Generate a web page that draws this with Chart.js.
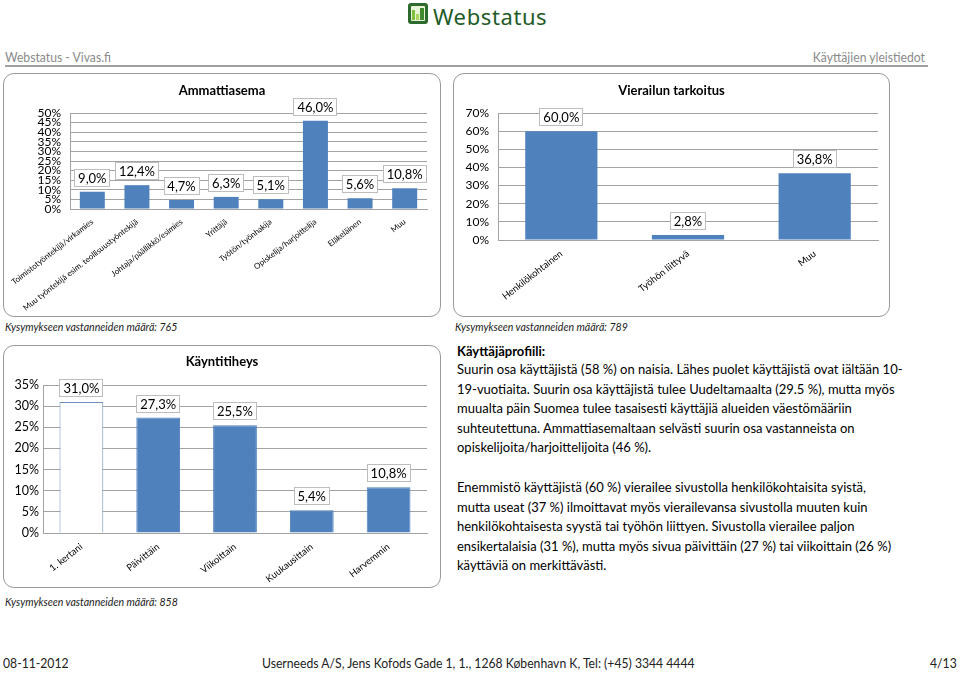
<!DOCTYPE html>
<html>
<head>
<meta charset="utf-8">
<script src="https://cdn.jsdelivr.net/npm/chart.js@4.4.0/dist/chart.umd.min.js"></script>
<style>
  html, body { margin: 0; padding: 0; background: #fff; }
  body { width: 960px; height: 673px; position: relative; overflow: hidden; font-family: Lato, "Open Sans", sans-serif; color: #000; }
  .abs { position: absolute; white-space: nowrap; }
  .cond { font-size: 14px; transform: scaleX(0.87); transform-origin: left top; }
  .cond.r { transform-origin: right top; }
  .box { position: absolute; border: 1px solid #9a9a9a; border-radius: 11px; box-sizing: border-box; overflow: hidden; }
  .box canvas { position: absolute; left: -1px; top: -1px; }
  .note { font-style: italic; font-size: 12px; color: #222; transform: scaleX(0.88); transform-origin: left top; }
  .para { font-size: 13px; line-height: 19.6px; }
</style>
</head>
<body>

<!-- logo -->
<div class="abs" style="left:408px; top:3px; width:20px; height:21px; background:#2c6a2e; border-radius:3px;">
  <div style="position:absolute; left:3px; top:3px; width:14px; height:15px; background:#e9f3d8; border-radius:1px;"></div>
  <div style="position:absolute; left:4px; top:7px; width:3px; height:10px; background:#7fbf3a;"></div>
  <div style="position:absolute; left:8px; top:11px; width:3px; height:6px; background:#a8d65a;"></div>
  <div style="position:absolute; left:12px; top:5px; width:4px; height:12px; background:#3f8a2c;"></div>
</div>
<div class="abs" style="left:433px; top:1px; font-family:'Noto Sans', sans-serif; font-size:22px; color:#1e5b27; letter-spacing:0.6px;">Webstatus</div>

<!-- page header -->
<div class="abs cond" style="left:5px; top:48px; color:#8a8a8a;">Webstatus - Vivas.fi</div>
<div class="abs cond r" style="right:35px; top:48px; color:#8a8a8a;">Käyttäjien yleistiedot</div>
<div class="abs" style="left:5px; top:65px; width:923px; height:2px; background:#a0a0a0;"></div>

<!-- charts -->
<div class="box" style="left:3px; top:73px; width:438px; height:244px;"><canvas id="occupationChart" width="438" height="244"></canvas></div>
<div class="box" style="left:453px; top:73px; width:437px; height:244px;"><canvas id="purposeChart" width="437" height="244"></canvas></div>
<div class="box" style="left:3px; top:345px; width:438px; height:243px;"><canvas id="frequencyChart" width="438" height="243"></canvas></div>

<div class="abs note" style="left:5px; top:319px;">Kysymykseen vastanneiden määrä: 765</div>
<div class="abs note" style="left:455px; top:319px;">Kysymykseen vastanneiden määrä: 789</div>
<div class="abs note" style="left:5px; top:594px;">Kysymykseen vastanneiden määrä: 858</div>

<!-- user profile text -->
<div class="abs" style="left:457px; top:343px; font-size:13px; font-weight:bold;">Käyttäjäprofiili:</div>
<div class="abs para" style="left:457px; top:360px;">
Suurin osa käyttäjistä (58 %) on naisia. Lähes puolet käyttäjistä ovat iältään 10-<br>
19-vuotiaita. Suurin osa käyttäjistä tulee Uudeltamaalta (29.5 %), mutta myös<br>
muualta päin Suomea tulee tasaisesti käyttäjiä alueiden väestömääriin<br>
suhteutettuna. Ammattiasemaltaan selvästi suurin osa vastanneista on<br>
opiskelijoita/harjoittelijoita (46 %).
</div>
<div class="abs para" style="left:457px; top:478px;">
Enemmistö käyttäjistä (60 %) vierailee sivustolla henkilökohtaisita syistä,<br>
mutta useat (37 %) ilmoittavat myös vierailevansa sivustolla muuten kuin<br>
henkilökohtaisesta syystä tai työhön liittyen. Sivustolla vierailee paljon<br>
ensikertalaisia (31 %), mutta myös sivua päivittäin (27 %) tai viikoittain (26 %)<br>
käyttäviä on merkittävästi.
</div>

<!-- footer -->
<div class="abs cond" style="left:3px; top:654px; color:#222;">08-11-2012</div>
<div class="abs cond" style="left:262px; top:654px; color:#222;">Userneeds A/S, Jens Kofods Gade 1, 1., 1268 København K, Tel: (+45) 3344 4444</div>
<div class="abs cond r" style="right:3px; top:654px; color:#222;">4/13</div>

<script>
// Ammattiasema
const occupationLabels = ['Toimistotyöntekijä/virkamies', 'Muu työntekijä esim. teollisuustyöntekijä',
    'Johtaja/päällikkö/esimies', 'Yrittäjä', 'Työtön/työnhakija', 'Opiskelija/harjoittelija', 'Eläkeläinen', 'Muu'];
const occupationValues = [9.0, 12.4, 4.7, 6.3, 5.1, 46.0, 5.6, 10.8];
const occupationTicks = [0, 5, 10, 15, 20, 25, 30, 35, 40, 45, 50];

// Vierailun tarkoitus
const purposeLabels = ['Henkilökohtainen', 'Työhön liittyvä', 'Muu'];
const purposeValues = [60.0, 2.8, 36.8];
const purposeTicks = [0, 10, 20, 30, 40, 50, 60, 70];

// Käyntitiheys
const frequencyLabels = ['1. kertani', 'Päivittäin', 'Viikoittain', 'Kuukausittain', 'Harvemmin'];
const frequencyValues = [31.0, 27.3, 25.5, 5.4, 10.8];
const frequencyTicks = [0, 5, 10, 15, 20, 25, 30, 35];

const BLUE = '#4f81bd';
const GRID = '#a3a3a3';

function fmtPct(v) {
    return v.toFixed(1).replace('.', ',') + '%';
}

// white boxed value labels above the bars
const valueLabels = {
    id: 'valueLabels',
    afterDatasetsDraw(chart) {
        const ctx = chart.ctx;
        const meta = chart.getDatasetMeta(0);
        const data = chart.data.datasets[0].data;
        ctx.save();
        ctx.font = '13px Lato, sans-serif';
        meta.data.forEach((bar, i) => {
            const text = fmtPct(data[i]);
            const w = Math.round(ctx.measureText(text).width + 8);
            const h = 18;
            const x = Math.round(bar.x - w / 2);
            const y = Math.round(bar.y - 5 - h);
            ctx.fillStyle = '#fff';
            ctx.fillRect(x, y, w, h);
            ctx.strokeStyle = '#bdbdbd';
            ctx.lineWidth = 1;
            ctx.strokeRect(x + 0.5, y + 0.5, w - 1, h - 1);
            ctx.fillStyle = '#000';
            ctx.textAlign = 'center';
            ctx.textBaseline = 'middle';
            ctx.fillText(text, bar.x, y + h / 2 + 1);
        });
        ctx.restore();
    }
};

// chart heading drawn at a fixed place
const boxTitle = {
    id: 'boxTitle',
    afterDraw(chart, args, opts) {
        const ctx = chart.ctx;
        ctx.save();
        ctx.font = 'bold 13px Lato, sans-serif';
        ctx.fillStyle = '#000';
        ctx.textAlign = 'center';
        ctx.textBaseline = 'middle';
        ctx.fillText(opts.text, chart.width / 2, opts.y);
        ctx.restore();
    }
};

function makeBarChart(id, labels, values, ticks, cfg) {
    const ctx = document.getElementById(id);
    const max = ticks[ticks.length - 1];
    return new Chart(ctx, {
        type: 'bar',
        data: {
            labels: labels,
            datasets: [{
                data: values,
                backgroundColor: cfg.fill || BLUE,
                borderColor: cfg.border || BLUE,
                borderWidth: cfg.border ? 1 : 0,
                barPercentage: cfg.bar,
                categoryPercentage: 1
            }]
        },
        options: {
            responsive: false,
            animation: false,
            events: [],
            layout: { padding: { top: cfg.top, right: cfg.right, left: 0, bottom: 0 } },
            plugins: {
                legend: { display: false },
                tooltip: { enabled: false },
                title: { display: false },
                boxTitle: { text: cfg.title, y: cfg.titleY }
            },
            scales: {
                x: {
                    grid: { display: false },
                    border: { display: true, color: GRID },
                    ticks: {
                        color: '#000',
                        font: { family: 'Lato', size: cfg.xFont },
                        minRotation: cfg.rot,
                        maxRotation: cfg.rot,
                        autoSkip: false,
                        padding: 0
                    },
                    afterFit(s) {
                        s.height = cfg.xHeight;
                        s.paddingLeft = 0;
                        s.paddingRight = 0;
                    }
                },
                y: {
                    min: 0,
                    max: max,
                    afterBuildTicks(s) {
                        s.ticks = ticks.map(v => ({ value: v }));
                    },
                    grid: { color: GRID, drawTicks: false },
                    border: { display: true, color: GRID },
                    ticks: {
                        color: '#000',
                        font: { family: 'Lato', size: cfg.yFont, lineHeight: 1 },
                        autoSkip: false,
                        padding: cfg.yPad,
                        callback: v => v + '%'
                    },
                    afterFit(s) {
                        s.width = cfg.yWidth;
                    }
                }
            }
        },
        plugins: [valueLabels, boxTitle]
    });
}

makeBarChart('occupationChart', occupationLabels, occupationValues, occupationTicks, {
    title: 'Ammattiasema', titleY: 18,
    top: 40, right: 14, yWidth: 67, xHeight: 108,
    bar: 0.56, rot: 38, xFont: 8, yFont: 12, yPad: 9
});

makeBarChart('purposeChart', purposeLabels, purposeValues, purposeTicks, {
    title: 'Vierailun tarkoitus', titleY: 18,
    top: 40, right: 12, yWidth: 45, xHeight: 77,
    bar: 0.57, rot: 38, xFont: 9.5, yFont: 12, yPad: 9
});

makeBarChart('frequencyChart', frequencyLabels, frequencyValues, frequencyTicks, {
    title: 'Käyntitiheys', titleY: 17,
    top: 40, right: 14, yWidth: 40, xHeight: 55,
    bar: 0.57, rot: 38, xFont: 9.5, yFont: 12.5, yPad: 4,
    fill: ['#ffffff', BLUE, BLUE, BLUE, BLUE],
    border: ['#6f8fbf', BLUE, BLUE, BLUE, BLUE]
});
</script>
</body>
</html>
